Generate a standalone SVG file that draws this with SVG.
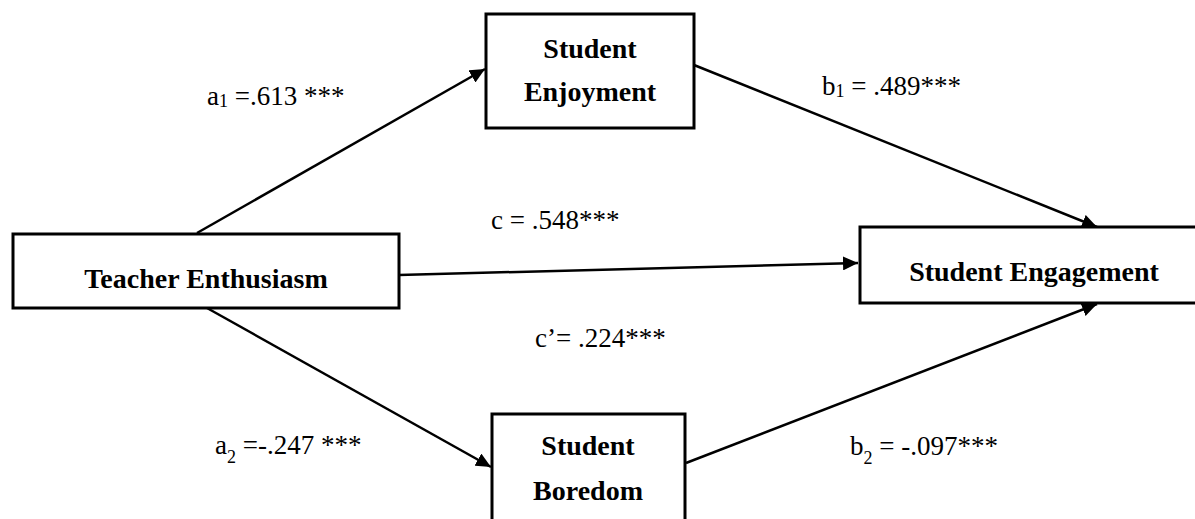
<svg xmlns="http://www.w3.org/2000/svg" width="1195" height="519" viewBox="0 0 1195 519">
<style>
.box{fill:#fff;stroke:#000;stroke-width:3}
.node{font-family:"Liberation Serif","Times New Roman",serif;font-weight:bold;font-size:28px;fill:#000;text-anchor:middle}
.lbl{font-family:"Liberation Serif","Times New Roman",serif;font-size:27px;fill:#000}
.sub{font-size:18px}
.conn{stroke:#000;stroke-width:2.5;fill:none;marker-end:url(#ah)}
</style>
<defs>
<marker id="ah" markerUnits="userSpaceOnUse" markerWidth="16" markerHeight="14" refX="15" refY="7" orient="auto">
<path d="M0,0 L15,7 L0,14 z" fill="#000"/>
</marker>
</defs>
<rect width="1195" height="519" fill="#fff"/>
<g id="connectors">
<line class="conn" x1="197" y1="233" x2="485" y2="69"/>
<line class="conn" x1="694" y1="65" x2="1097" y2="227"/>
<line class="conn" x1="399" y1="275" x2="858" y2="263"/>
<line class="conn" x1="207" y1="308" x2="491" y2="467"/>
<line class="conn" x1="686" y1="463" x2="1097" y2="304"/>
</g>
<g id="node-teacher">
<rect class="box" x="13" y="234" width="386" height="74"/>
<text class="node" x="206" y="288">Teacher Enthusiasm</text>
</g>
<g id="node-enjoyment">
<rect class="box" x="486" y="14" width="208" height="114"/>
<text class="node" x="590" y="58">Student</text>
<text class="node" x="590" y="101">Enjoyment</text>
</g>
<g id="node-engagement">
<rect class="box" x="860" y="227" width="350" height="76"/>
<text class="node" x="1034" y="281">Student Engagement</text>
</g>
<g id="node-boredom">
<rect class="box" x="492" y="414" width="193" height="110"/>
<text class="node" x="588" y="455">Student</text>
<text class="node" x="588" y="500">Boredom</text>
</g>
<g id="labels">
<text class="lbl" x="207" y="105">a<tspan class="sub" dy="2">1</tspan><tspan dy="-2"> =.613 ***</tspan></text>
<text class="lbl" x="822" y="95">b<tspan class="sub" dy="2">1</tspan><tspan dy="-2"> = .489***</tspan></text>
<text class="lbl" x="491" y="229">c = .548***</text>
<text class="lbl" x="535" y="347">c’= .224***</text>
<text class="lbl" x="215" y="454">a<tspan class="sub" dy="9">2</tspan><tspan dy="-9"> =-.247 ***</tspan></text>
<text class="lbl" x="850" y="455">b<tspan class="sub" dy="9">2</tspan><tspan dy="-9"> = -.097***</tspan></text>
</g>
</svg>
